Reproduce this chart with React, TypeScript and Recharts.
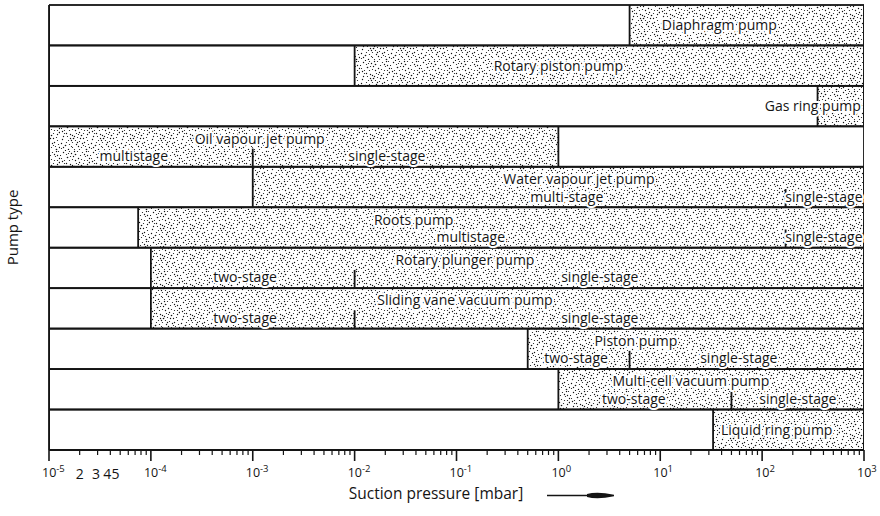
import React from 'react';
import { BarChart, Bar, XAxis, YAxis, ReferenceDot } from 'recharts';

const AXIS_MIN = 1e-5;
const AXIS_MAX = 1e3;

const pumpTypes = [
  'Diaphragm pump',
  'Rotary piston pump',
  'Gas ring pump',
  'Oil vapour jet pump',
  'Water vapour jet pump',
  'Roots pump',
  'Rotary plunger pump',
  'Sliding vane vacuum pump',
  'Piston pump',
  'Multi-cell vacuum pump',
  'Liquid ring pump',
];
// suction pressure ranges [mbar]
const rangeStart = [5, 1e-2, 350, 1e-5, 1e-3, 7.5e-5, 1e-4, 1e-4, 0.5, 1, 33];
const rangeEnd = [1e3, 1e3, 1e3, 1, 1e3, 1e3, 1e3, 1e3, 1e3, 1e3, 1e3];
const stageSplit = [null, null, null, 1e-3, 170, 170, 1e-2, 1e-2, 5, 50, null];
const lowStageLabels = [null, null, null, 'multistage', 'multi-stage', 'multistage', 'two-stage', 'two-stage', 'two-stage', 'two-stage', null];
const highStageLabels = [null, null, null, 'single-stage', 'single-stage', 'single-stage', 'single-stage', 'single-stage', 'single-stage', 'single-stage', null];
// where the labels sit on the pressure axis [mbar]
const titleAt = [38, 1.0, 314, 1.17e-3, 1.59, 0.038, 0.121, 0.121, 5.77, 20, 139];
const lowLabelAt = [null, null, null, 6.8e-5, 1.21, 0.138, 8.4e-4, 8.4e-4, 1.49, 5.5, null];
const highLabelAt = [null, null, null, 0.0207, 404, 404, 2.55, 2.55, 59, 224, null];

const decadeExponents = [-5, -4, -3, -2, -1, 0, 1, 2, 3];
const minorMantissas = [2, 3, 4, 5, 6, 7, 8, 9];
const labelledMinorMantissas = [2, 3, 4, 5];

const INK = '#141414';
const FONT = '"Open Sans", "DejaVu Sans", sans-serif';

const data = pumpTypes.map((name, i) => ({
  name,
  full: [AXIS_MIN, AXIS_MAX],
  low: [rangeStart[i], stageSplit[i] != null ? stageSplit[i] : rangeEnd[i]],
  high: stageSplit[i] != null ? [stageSplit[i], rangeEnd[i]] : [rangeEnd[i], rangeEnd[i]],
  hasHigh: stageSplit[i] != null,
}));

const tickValues: number[] = [];
decadeExponents.forEach((e) => {
  tickValues.push(Math.pow(10, e));
  if (e < decadeExponents[decadeExponents.length - 1]) {
    minorMantissas.forEach((m) => tickValues.push(m * Math.pow(10, e)));
  }
});

type LabelItem = { name: string; at: number; text: string; kind: 'single' | 'title' | 'stage' };
const labelItems: LabelItem[] = [];
pumpTypes.forEach((name, i) => {
  const two = stageSplit[i] != null;
  labelItems.push({ name, at: titleAt[i] as number, text: name, kind: two ? 'title' : 'single' });
  if (two) {
    labelItems.push({ name, at: lowLabelAt[i] as number, text: lowStageLabels[i] as string, kind: 'stage' });
    labelItems.push({ name, at: highLabelAt[i] as number, text: highStageLabels[i] as string, kind: 'stage' });
  }
});

// stipple texture (style only)
const DOTS: [number, number, number][] = [
  [3, 2, 0.7], [9, 1, 0.6], [15, 4, 0.8], [22, 2, 0.6], [27, 5, 0.7], [1, 8, 0.6], [7, 7, 0.8],
  [12, 9, 0.6], [18, 8, 0.7], [24, 10, 0.6], [29, 12, 0.8], [4, 13, 0.6], [10, 14, 0.7],
  [16, 13, 0.6], [21, 15, 0.8], [26, 17, 0.6], [2, 19, 0.7], [8, 20, 0.6], [13, 18, 0.8],
  [19, 21, 0.6], [24, 22, 0.7], [28, 24, 0.6], [5, 25, 0.8], [11, 26, 0.6], [16, 24, 0.7],
  [21, 27, 0.6], [26, 29, 0.8], [1, 28, 0.6], [8, 29, 0.7], [14, 29, 0.6], [6, 4, 0.6],
  [19, 12, 0.7], [12, 22, 0.6], [25, 6, 0.6], [3, 16, 0.7], [17, 17, 0.6], [9, 10, 0.6],
  [23, 18, 0.7], [28, 1, 0.6], [14, 1, 0.7],
  [5, 0, 0.6], [11, 3, 0.7], [17, 1, 0.6], [24, 4, 0.7], [0, 5, 0.6], [13, 6, 0.7], [20, 5, 0.6],
  [29, 8, 0.7], [4, 10, 0.6], [15, 10, 0.7], [21, 9, 0.6], [27, 14, 0.7], [7, 16, 0.6],
  [12, 15, 0.7], [23, 13, 0.6], [1, 23, 0.7], [6, 22, 0.6], [10, 18, 0.7], [15, 20, 0.6],
  [20, 18, 0.7], [27, 20, 0.6], [3, 27, 0.7], [9, 24, 0.6], [18, 26, 0.7], [23, 25, 0.6],
  [29, 27, 0.7], [12, 27, 0.6], [17, 22, 0.7], [25, 26, 0.6], [6, 13, 0.7], [10, 6, 0.6],
  [22, 23, 0.7], [27, 10, 0.6], [14, 16, 0.7], [19, 29, 0.6], [2, 11, 0.7], [8, 3, 0.6],
  [26, 1, 0.7], [18, 14, 0.6], [11, 20, 0.7],
];

const LowShape = (p: any) => {
  const { x, y, width, height, payload } = p;
  if (!(width > 0)) return <g />;
  return (
    <g>
      <rect x={x} y={y} width={width} height={height} fill="url(#stipple)" />
      <line x1={x} x2={x} y1={y} y2={y + height} stroke={INK} strokeWidth={1.8} />
      {!payload.hasHigh && (
        <line x1={x + width} x2={x + width} y1={y} y2={y + height} stroke={INK} strokeWidth={1.8} />
      )}
    </g>
  );
};

const HighShape = (p: any) => {
  const { x, y, width, height, payload } = p;
  if (!payload.hasHigh || !(width > 0)) return <g />;
  return (
    <g>
      <rect x={x} y={y} width={width} height={height} fill="url(#stipple)" />
      <line x1={x} x2={x} y1={y + height * 0.55} y2={y + height} stroke={INK} strokeWidth={1.8} />
      <line x1={x + width} x2={x + width} y1={y} y2={y + height} stroke={INK} strokeWidth={1.8} />
    </g>
  );
};

const RowShape = (p: any) => {
  const { x, y, width, height } = p;
  return (
    <g>
      <rect x={x} y={y} width={width} height={height} fill="none" stroke={INK} strokeWidth={1.8} />
      <line x1={x - 3} x2={x} y1={y + height} y2={y + height} stroke={INK} strokeWidth={1.4} />
    </g>
  );
};

const LogTick = (props: any) => {
  const { x, y, payload } = props;
  const v = payload.value as number;
  const lg = Math.log10(v);
  const exp = Math.round(lg);
  const isMajor = Math.abs(lg - exp) < 1e-6;
  const floorExp = Math.floor(lg + 1e-9);
  const mant = Math.round(v / Math.pow(10, floorExp));
  const showMinor = !isMajor && floorExp === decadeExponents[0] && labelledMinorMantissas.includes(mant);
  return (
    <g>
      <line x1={x} x2={x} y1={y} y2={y + (isMajor ? 11 : 5)} stroke={INK} strokeWidth={isMajor ? 1.6 : 1.2} />
      {isMajor && (
        <text x={x - 7} y={y + 27} fontSize={12.5} fill={INK} fontFamily={FONT}>
          10
          <tspan dy={-5} fontSize={9.5}>{String(exp)}</tspan>
        </text>
      )}
      {showMinor && (
        <text x={x - (mant - 2) * 1.6} y={y + 29} fontSize={14} fill={INK} textAnchor="middle" fontFamily={FONT}>
          {mant}
        </text>
      )}
    </g>
  );
};

const XLabel = (props: any) => {
  const vb = props.viewBox || { x: 49, y: 450, width: 815, height: 66 };
  const cx = vb.x + 387;
  const by = vb.y + 49;
  const ax = vb.x + 498;
  const ay = vb.y + 45.5;
  return (
    <g>
      <text x={cx} y={by} textAnchor="middle" fontSize={15.5} fill={INK} fontFamily={FONT}>
        Suction pressure [mbar]
      </text>
      <line x1={ax} x2={ax + 46} y1={ay} y2={ay} stroke={INK} strokeWidth={1.5} />
      <path
        d={`M ${ax + 40} ${ay - 1.4} Q ${ax + 50} ${ay - 4.2} ${ax + 67} ${ay - 0.8} L ${ax + 67} ${ay + 0.8} Q ${ax + 50} ${ay + 4.2} ${ax + 40} ${ay + 1.4} Z`}
        fill={INK}
      />
    </g>
  );
};

const YLabel = (props: any) => {
  const vb = props.viewBox || { x: 0, y: 5, width: 49, height: 445 };
  const x = 18;
  const y = vb.y + vb.height / 2;
  return (
    <text x={x} y={y} transform={`rotate(-90, ${x}, ${y})`} textAnchor="middle" fontSize={15} fill={INK} fontFamily={FONT}>
      Pump type
    </text>
  );
};

const makeLabel = (item: LabelItem) => (props: any) => {
  const vb = props.viewBox;
  if (!vb) return null;
  const cx = vb.x + (vb.width || 0) / 2;
  const cy = vb.y + (vb.height || 0) / 2;
  const off = item.kind === 'title' ? -8 : item.kind === 'stage' ? 9.5 : 0;
  return (
    <text
      x={cx}
      y={cy + off + 5}
      textAnchor="middle"
      fontSize={14}
      fill={INK}
      fontFamily={FONT}
      stroke="#fff"
      strokeWidth={4}
      paintOrder="stroke"
      strokeLinejoin="round"
    >
      {item.text}
    </text>
  );
};

export default function App() {
  return (
    <div style={{ position: 'absolute', left: 0, top: 0, background: '#fff' }}>
      <BarChart
        width={880}
        height={516}
        data={data}
        layout="vertical"
        margin={{ top: 5, right: 16, bottom: 0, left: 0 }}
        barCategoryGap={0}
        barSize={40.4}
        barGap={-40.4}
        style={{ fontFamily: FONT }}
      >
        <defs>
          <pattern id="stipple" width={30} height={30} patternUnits="userSpaceOnUse">
            <rect width={30} height={30} fill="#fff" />
            {DOTS.map(([dx, dy, r], k) => (
              <circle key={k} cx={dx + 0.5} cy={dy + 0.5} r={r} fill="#111" />
            ))}
          </pattern>
        </defs>
        <XAxis
          type="number"
          scale="log"
          domain={[AXIS_MIN, AXIS_MAX]}
          ticks={tickValues}
          interval={0}
          tick={<LogTick />}
          tickLine={false}
          tickSize={0}
          tickMargin={0}
          height={66}
          axisLine={{ stroke: INK, strokeWidth: 1.8 }}
          allowDataOverflow
          label={{ content: XLabel }}
        />
        <YAxis
          type="category"
          dataKey="name"
          width={49}
          tick={false}
          tickLine={false}
          axisLine={{ stroke: INK, strokeWidth: 1.8 }}
          label={{ content: YLabel }}
        />
        <Bar dataKey="low" shape={<LowShape />} isAnimationActive={false} />
        <Bar dataKey="high" shape={<HighShape />} isAnimationActive={false} />
        <Bar dataKey="full" shape={<RowShape />} isAnimationActive={false} />
        {labelItems.map((item, k) => (
          <ReferenceDot
            key={k}
            x={item.at}
            y={item.name}
            r={0}
            fill="none"
            stroke="none"
            label={makeLabel(item)}
          />
        ))}
      </BarChart>
    </div>
  );
}
